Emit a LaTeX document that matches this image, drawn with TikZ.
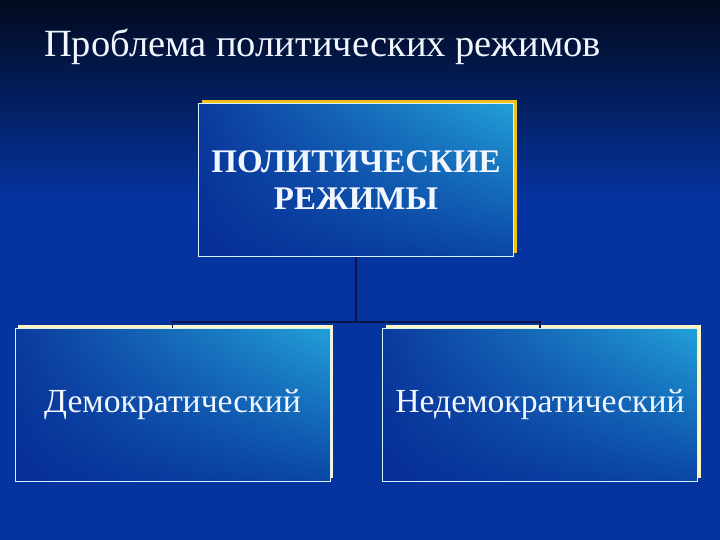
\documentclass[tikz,border=0pt]{standalone}
\usepackage{fontspec}
\setmainfont{Liberation Serif}
\usetikzlibrary{shadows,shadings}
\definecolor{bgtop}{HTML}{020A1E}
\definecolor{bgmid}{HTML}{08266E}
\definecolor{bgbot}{HTML}{0533A0}
\definecolor{boxUL}{HTML}{0B3A9E}
\definecolor{boxUR}{HTML}{22A0D8}
\definecolor{boxLL}{HTML}{062E96}
\definecolor{boxLR}{HTML}{0A46A6}
\definecolor{goldline}{HTML}{F2C21A}
\definecolor{creamline}{HTML}{FFF6C8}
\definecolor{txt}{HTML}{F2F6FF}
\definecolor{linkc}{HTML}{0B1548}
\tikzset{
  boxbase/.style={rectangle, draw=white!85!cyan, line width=0.8pt,
    upper left=boxUL, upper right=boxUR, lower left=boxLL, lower right=boxLR,
    text=txt, align=center, inner sep=0pt},
  topbox/.style={boxbase, minimum width=315pt, minimum height=153pt,
    general shadow={fill=goldline, shadow xshift=3pt, shadow yshift=3pt}},
  lowbox/.style={boxbase, minimum width=315pt, minimum height=153pt,
    general shadow={fill=creamline, shadow xshift=3pt, shadow yshift=3pt}},
  link/.style={draw=linkc, line width=1.8pt}
}
\begin{document}
\begin{tikzpicture}[x=1pt,y=1pt]
\useasboundingbox (0,0) rectangle (720,540);
\fill[bgbot] (0,0) rectangle (720,540);
\shade[top color=bgtop, middle color=bgmid, bottom color=bgbot] (0,540) rectangle (720,340);
\node[anchor=base west, text=txt, font=\fontsize{38.5}{42}\selectfont, inner sep=0pt] (title) at (44,483) {Проблема политических режимов};
\node[topbox, font=\bfseries\fontsize{33}{37}\selectfont] (top) at (356,360) {ПОЛИТИЧЕСКИЕ\\РЕЖИМЫ};
\node[lowbox, font=\fontsize{33.7}{38}\selectfont] (dem) at (172.5,135) {Демократический};
\node[lowbox, font=\fontsize{33.7}{38}\selectfont] (non) at (540,135) {Недемократический};
\coordinate (mid) at (356,218);
\draw[link] (top.south) -- (mid);
\draw[link] (dem.north) -- (dem.north |- mid) -- (non.north |- mid) -- (non.north);
\end{tikzpicture}
\end{document}
